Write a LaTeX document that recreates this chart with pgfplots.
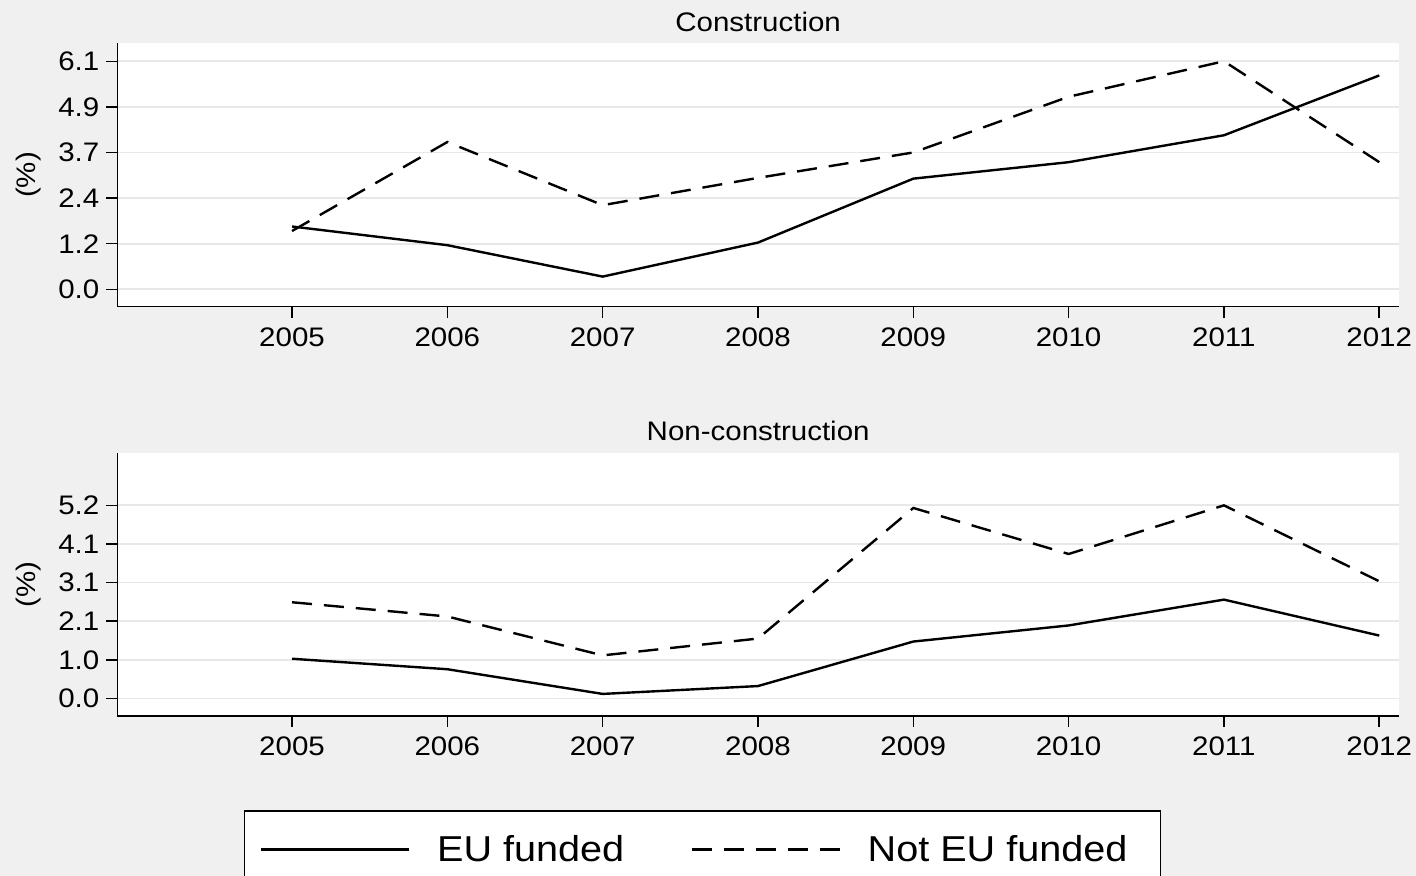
\documentclass[border=0pt]{standalone}
\usepackage{fontspec}
\setmainfont[FakeStretch=1.1]{Liberation Sans}
\usepackage{pgfplots}
\pgfplotsset{compat=1.18}
\definecolor{bg}{RGB}{240,240,240}
\definecolor{gridc}{RGB}{232,232,232}

\newcommand\tickfont{\fontsize{13.4}{15}\selectfont}
\newcommand\legfont{\fontsize{18}{22}\selectfont}

\pgfplotsset{
  panel/.style={
    scale only axis, width=640.85pt, height=131.7pt,
    xmin=2003.875, xmax=2012.127,
    axis x line*=bottom, axis y line*=left,
    axis line style={line width=0.7pt, -},
    axis background/.style={fill=white},
    tick align=outside, major tick length=5.5pt,
    tick style={black, line width=0.7pt},
    xtick={2005,...,2012},
    xticklabels={2005,2006,2007,2008,2009,2010,2011,2012},
    ymajorgrids, grid style={gridc, line width=0.9pt},
    ticklabel style={font=\tickfont},
    xticklabel style={yshift=-1.5pt},
    ylabel={(\%)},
    every axis y label/.style={at={(axis description cs:-0.0689,0.5)},
      rotate=90, anchor=center, font=\tickfont},
    title style={at={(axis description cs:0.5,1.037)}, anchor=center, font=\tickfont},
  },
  eu/.style={black, line width=1.2pt},
  noteu/.style={black, line width=1.2pt, dash pattern=on 10pt off 6pt},
}

\begin{document}
\begin{tikzpicture}
\fill[bg] (0,0) rectangle (708pt,438pt);
\useasboundingbox (0,0) rectangle (708pt,438pt);

% top panel: construction
\begin{axis}[panel, at={(58.65pt,284.65pt)}, anchor=south west,
  title={Construction},
  ymin=-0.465, ymax=6.58,
  ytick={0,1.22,2.44,3.66,4.88,6.1},
  yticklabels={0.0,1.2,2.4,3.7,4.9,6.1}]
\addplot[eu] coordinates {
  (2005,1.68) (2006,1.18) (2007,0.34) (2008,1.25)
  (2009,2.96) (2010,3.40) (2011,4.12) (2012,5.72)};
\addplot[noteu] coordinates {
  (2005,1.56) (2006,3.94) (2007,2.25) (2008,2.98)
  (2009,3.66) (2010,5.15) (2011,6.10) (2012,3.40)};
\end{axis}

% bottom panel: non-construction
\begin{axis}[panel, at={(58.65pt,80pt)}, anchor=south west,
  title={Non-construction},
  ymin=-0.47, ymax=6.57,
  ytick={0,1.032,2.064,3.096,4.128,5.16},
  yticklabels={0.0,1.0,2.1,3.1,4.1,5.2},
  legend style={at={(axis description cs:0.0989,-0.3578)}, anchor=north west,
    draw=black, line width=0.7pt, fill=white, font=\legfont,
    legend columns=2, inner xsep=7.5pt, inner ysep=12pt,
    nodes={inner sep=0pt},
    /tikz/every odd column/.append style={column sep=13.5pt},
    /tikz/every even column/.append style={column sep=33pt}},
  legend image code/.code={\draw[#1] (0pt,0pt) -- (74pt,0pt);}]
\addplot[eu] coordinates {
  (2005,1.06) (2006,0.78) (2007,0.12) (2008,0.33)
  (2009,1.52) (2010,1.95) (2011,2.64) (2012,1.68)};
\addlegendentry{EU funded}
\addplot[noteu] coordinates {
  (2005,2.57) (2006,2.19) (2007,1.15) (2008,1.60)
  (2009,5.09) (2010,3.86) (2011,5.16) (2012,3.13)};
\addlegendentry{Not EU funded\hspace*{9pt}}
\end{axis}
\end{tikzpicture}
\end{document}
